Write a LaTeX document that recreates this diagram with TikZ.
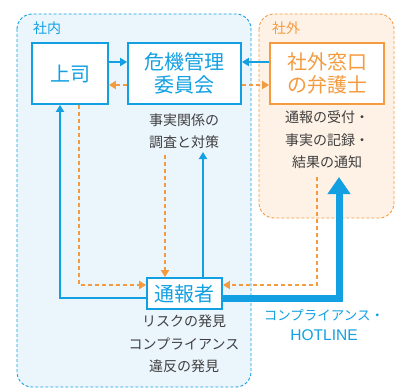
\documentclass[tikz,border=0pt]{standalone}
\usepackage{fontspec}
\setmainfont{Noto Sans CJK JP}
\newfontfamily\latinsans{Liberation Sans}
\usetikzlibrary{arrows.meta}
\definecolor{cblue}{HTML}{12A0E2}
\definecolor{corange}{HTML}{F39B3E}
\definecolor{fblue}{HTML}{EBF5FC}
\definecolor{forange}{HTML}{FEF2E6}
\definecolor{cgray}{HTML}{404040}
\tikzset{
  region/.style={dashed, dash pattern=on 3pt off 2pt, line width=0.9pt, rounded corners=15pt},
  bigbox/.style={draw, line width=1.8pt, fill=white, inner sep=0pt, align=center, font=\fontsize{20}{23}\selectfont},
  desc/.style={align=center, text=cgray, font=\fontsize{14}{22.5}\selectfont, inner sep=0pt},
  bluearrow/.style={draw=cblue, line width=1.8pt, -{Triangle[width=8pt,length=7pt]}},
  orangearrow/.style={draw=corange, line width=1.8pt, dash pattern=on 4pt off 3pt, -{Triangle[width=8pt,length=7pt]}},
  thickarrow/.style={draw=cblue, line width=7pt, -{Triangle[width=22pt,length=17pt]}},
}
\begin{document}
\begin{tikzpicture}[x=1pt,y=-1pt]
\useasboundingbox (0,0) rectangle (395,390);
% regions
\draw[region, draw=cblue, fill=fblue] (17,14) rectangle (251,387);
\draw[region, draw=corange, fill=forange] (259,14) rectangle (394,218);
\node[text=cblue, font=\fontsize{14}{15}\selectfont, inner sep=0pt] (lin) at (47,28) {社内};
\node[text=corange, font=\fontsize{14}{15}\selectfont, inner sep=0pt] (lout) at (286,28) {社外};
% boxes
\node[bigbox, draw=cblue, text=cblue, minimum width=76pt, minimum height=61pt] (joshi) at (70,73.5) {上司};
\node[bigbox, draw=cblue, text=cblue, minimum width=113pt, minimum height=61pt] (kiki) at (184.5,73.5) {危機管理\\委員会};
\node[bigbox, draw=corange, text=corange, minimum width=114pt, minimum height=61pt] (bengo) at (327,73.5) {社外窓口\\の弁護士};
\node[bigbox, draw=cblue, text=cblue, minimum width=75pt, minimum height=31pt] (tsuho) at (184.5,293.5) {通報者};
% descriptions
\node[desc] (kikitext) at (184,131) {事実関係の\\調査と対策};
\node[desc] (bengotext) at (327,140) {通報の受付・\\事実の記録・\\結果の通知};
\node[desc] (tsuhotext) at (184,344) {リスクの発見\\コンプライアンス\\違反の発見};
\node[align=center, text=cblue, font=\fontsize{13.5}{20}\selectfont, inner sep=0pt] (hotline) at (324,325) {コンプライアンス・\\{\latinsans\fontsize{15.5}{20}\selectfont HOTLINE}};
% free ends
\coordinate (a1) at (165,155);
\coordinate (a2) at (203,152);
\coordinate (a3) at (317,177);
\coordinate (a4) at (339,177);
% connectors
\draw[bluearrow] ([yshift=11.5pt]joshi.east) -- ([yshift=11.5pt]kiki.west);
\draw[orangearrow] ([yshift=-11.5pt]kiki.west) -- ([yshift=-11.5pt]joshi.east);
\draw[bluearrow] ([yshift=11.5pt]bengo.west) -- ([yshift=11.5pt]kiki.east);
\draw[orangearrow] ([yshift=-11.5pt]kiki.east) -- ([yshift=-11.5pt]bengo.west);
\draw[bluearrow] ([yshift=-4.5pt]tsuho.west) -| ([xshift=-10pt]joshi.south);
\draw[orangearrow] ([xshift=9pt]joshi.south) |- ([yshift=8.5pt]tsuho.west);
\draw[orangearrow] (a1) -- (a1 |- tsuho.north);
\draw[bluearrow] (tsuho.north -| a2) -- (a2);
\draw[orangearrow] (a3) |- ([yshift=8.5pt]tsuho.east);
\draw[thickarrow] ([yshift=-4.5pt]tsuho.east) -| (a4);
\end{tikzpicture}
\end{document}
